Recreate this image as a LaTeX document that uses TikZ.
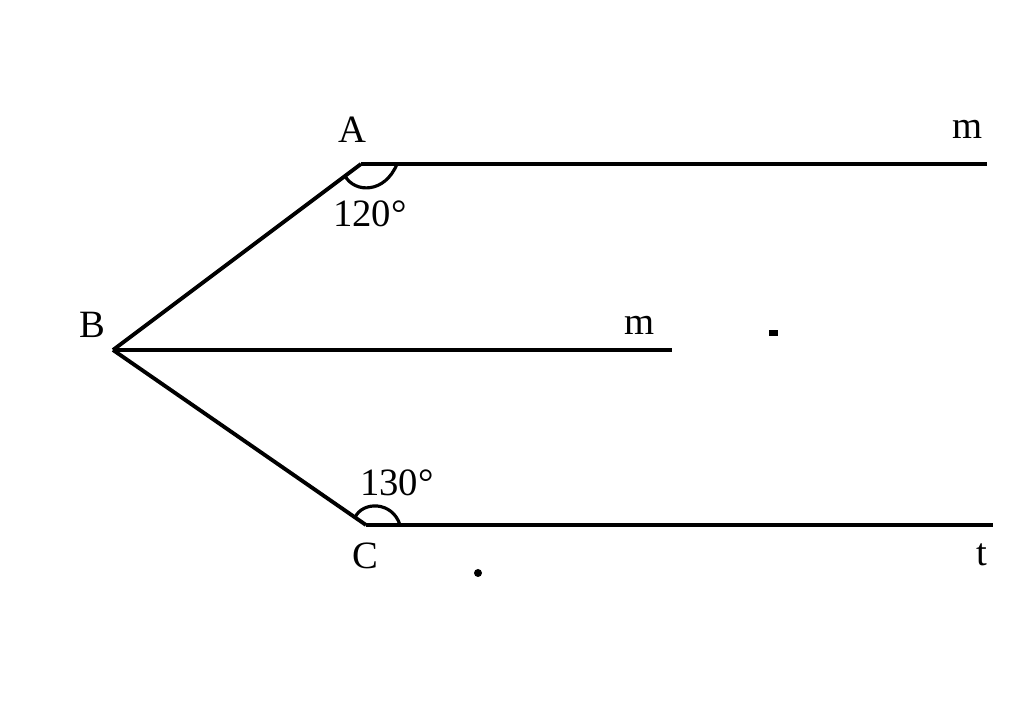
\documentclass[tikz,border=0pt]{standalone}
\usepackage{fontspec}
\setmainfont{Liberation Serif}

\begin{document}
\begin{tikzpicture}[line width=2.2pt, every node/.style={font=\fontsize{22}{26}\selectfont}]
        \useasboundingbox (0,0) rectangle (20.48,14.32);

        \coordinate (A) at (7.22,11.04);
        \coordinate (B) at (2.26,7.32);
        \coordinate (C) at (7.32,3.82);
        \coordinate (Am) at (19.74,11.04);
        \coordinate (Bm) at (13.44,7.32);
        \coordinate (Ct) at (19.86,3.82);

        \draw (A) -- (Am);
        \draw (B) -- (A);
        \draw (B) -- (Bm);
        \draw (B) -- (C);
        \draw (C) -- (Ct);

        \draw[line width=1.8pt] (6.90,10.80) .. controls (7.10,10.45) and (7.70,10.45) .. (7.94,11.04);
        \draw[line width=1.8pt] (7.10,3.97) .. controls (7.25,4.30) and (7.85,4.30) .. (8.00,3.82);

        \node (LA) at (7.04,11.72) {A};
        \node (Lm1) at (19.36,11.74) {m};
        \node (LA1) at (7.40,10.04) {120°};
        \node (LB) at (1.84,7.82) {B};
        \node (Lm2) at (12.80,7.82) {m};
        \node (LC1) at (7.94,4.66) {130°};
        \node (LC) at (7.30,3.20) {C};
        \node (Lt) at (19.64,3.22) {t};

        \fill (15.38,7.60) rectangle (15.56,7.72);
        \fill (9.56,2.86) circle (0.08);
    \end{tikzpicture}
\end{document}
